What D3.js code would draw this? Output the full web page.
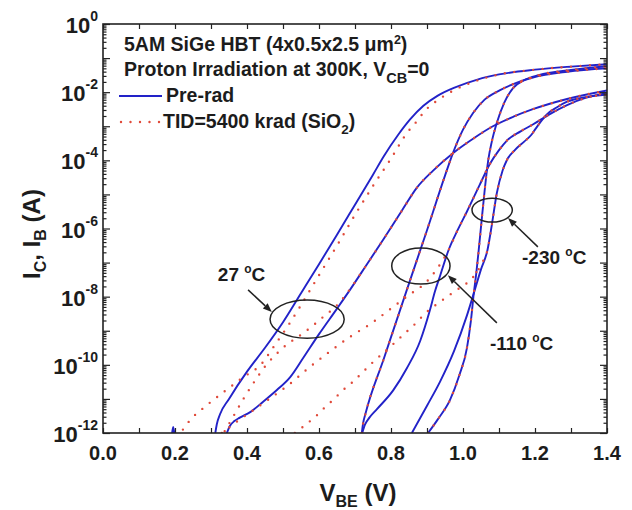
<!DOCTYPE html>
<html>
<head>
<meta charset="utf-8">
<script src="https://cdn.jsdelivr.net/npm/d3@7"></script>
<style>
  body { margin: 0; background: #fff; }
  text { font-family: "Liberation Sans", Arial, sans-serif; font-weight: bold; fill: #1c1c1c; }
</style>
</head>
<body>
<svg width="632" height="510"></svg>
<script>
// every point is [V_BE (V), log10 of current (A)]
var preIc27 = [[0.312,-12],[0.316,-11.75],[0.325,-11.45],[0.35,-11.0],[0.4,-10.2],[0.45,-9.5],[0.5,-8.75],[0.55,-7.9],
  [0.6,-7.05],[0.65,-6.18],[0.7,-5.3],[0.75,-4.42],[0.78,-3.88],[0.82,-3.25],[0.853,-2.8],[0.89,-2.4],[0.93,-2.1],
  [0.98,-1.85],[1.04,-1.63],[1.1,-1.48],[1.2,-1.34],[1.3,-1.25],[1.4,-1.18]];
var preIb27 = [[0.344,-12],[0.352,-11.8],[0.365,-11.65],[0.38,-11.55],[0.41,-11.38],[0.444,-11.09],[0.483,-10.74],
  [0.52,-10.36],[0.556,-9.8],[0.6,-9.1],[0.65,-8.35],[0.686,-7.8],[0.73,-7.1],[0.78,-6.3],[0.83,-5.48],[0.872,-4.8],
  [0.917,-4.3],[0.972,-3.79],[1.03,-3.35],[1.083,-3.0],[1.14,-2.72],[1.194,-2.5],[1.289,-2.2],[1.4,-1.95]];
var preIc110 = [[0.719,-12],[0.722,-11.75],[0.73,-11.4],[0.78,-9.82],[0.844,-7.8],[0.9,-6.05],[0.95,-4.45],[0.972,-3.79],
  [1.0,-3.1],[1.028,-2.61],[1.06,-2.22],[1.103,-1.94],[1.15,-1.72],[1.194,-1.57],[1.289,-1.4],[1.4,-1.3]];
var preIb110 = [[0.72,-12],[0.728,-11.75],[0.74,-11.55],[0.761,-11.3],[0.806,-10.75],[0.844,-10.1],[0.881,-9.3],
  [0.908,-8.4],[0.922,-7.85],[0.936,-7.4],[0.96,-6.63],[0.985,-6.05],[1.011,-5.5],[1.045,-4.75],[1.075,-4.1],[1.1,-3.7],
  [1.122,-3.42],[1.16,-3.15],[1.194,-2.95],[1.24,-2.65],[1.289,-2.38],[1.34,-2.17],[1.4,-2.02]];
var preIc230 = [[0.903,-12],[0.93,-11.6],[0.964,-11.03],[0.99,-10.3],[1.011,-9.5],[1.022,-8.7],[1.03,-7.9],[1.037,-7.3],
  [1.043,-6.7],[1.05,-5.95],[1.06,-4.9],[1.07,-4.0],[1.08,-3.45],[1.094,-2.9],[1.115,-2.3],[1.139,-1.88],[1.17,-1.65],
  [1.21,-1.5],[1.3,-1.35],[1.4,-1.24]];
var preIb230 = [[0.858,-12],[0.9,-11.2],[0.936,-10.5],[0.975,-9.6],[1.011,-8.55],[1.03,-7.9],[1.05,-7.2],[1.068,-6.63],
  [1.08,-5.9],[1.094,-4.96],[1.11,-4.3],[1.122,-3.99],[1.144,-3.7],[1.17,-3.45],[1.19,-3.25],[1.2,-3.1],[1.215,-2.88],
  [1.233,-2.65],[1.26,-2.45],[1.289,-2.28],[1.34,-2.15],[1.4,-2.07]];
var preGlitch = [[0.192,-12],[0.195,-11.82],[0.198,-12]];

// irradiated: low current part, the rest lies on the pre-rad curve
var tidIc27Low = [[0.222,-11.9],[0.247,-11.56],[0.275,-11.3],[0.303,-11.06],[0.331,-10.83],[0.386,-10.39],[0.442,-9.95],
  [0.472,-9.5],[0.511,-8.9],[0.547,-8.3],[0.6,-7.37],[0.65,-6.5],[0.7,-5.6],[0.75,-4.75],[0.8,-3.95],[0.844,-3.2],
  [0.872,-2.85],[0.894,-2.55],[0.928,-2.25],[0.97,-1.97],[1.02,-1.73]];
var tidIb27Low = [[0.338,-11.95],[0.36,-11.55],[0.39,-11.0],[0.42,-10.5],[0.45,-10.05],[0.5,-9.5],[0.556,-9.07],
  [0.583,-8.85],[0.611,-8.6],[0.65,-8.25],[0.686,-7.78]];
var tidIb110Low = [[0.33,-12],[0.37,-11.68],[0.408,-11.4],[0.458,-11.03],[0.514,-10.6],[0.575,-10.06],[0.631,-9.6],
  [0.686,-9.18],[0.747,-8.77],[0.806,-8.3],[0.85,-7.95],[0.9,-7.55],[0.93,-7.15]];
var tidIb230Low = [[0.533,-12],[0.561,-11.77],[0.589,-11.53],[0.614,-11.27],[0.639,-11.03],[0.667,-10.74],[0.694,-10.5],
  [0.722,-10.21],[0.75,-9.92],[0.8,-9.45],[0.839,-9.07],[0.867,-8.8],[0.894,-8.5],[0.93,-8.2],[0.956,-8.0],[0.983,-7.8],
  [1.011,-7.6],[1.033,-7.36],[1.053,-7.01]];

var xTicks = [0, 0.1, 0.2, 0.3, 0.4, 0.5, 0.6, 0.7, 0.8, 0.9, 1.0, 1.1, 1.2, 1.3, 1.4];
var xLabels = ["0.0", "0.2", "0.4", "0.6", "0.8", "1.0", "1.2", "1.4"];
var yLabelExps = [0, -2, -4, -6, -8, -10, -12];

var preCurves = [preIc27, preIb27, preIc110, preIb110, preIc230, preIb230, preGlitch];
var tidCurves = [
  tidIc27Low.concat(preIc27.filter(function(d) { return d[0] > 1.05; })),
  tidIb27Low.concat(preIb27.filter(function(d) { return d[0] > 0.7; })),
  preIc110,
  tidIb110Low.concat(preIb110.filter(function(d) { return d[0] > 0.95; })),
  preIc230,
  tidIb230Low.concat(preIb230.filter(function(d) { return d[0] > 1.06; }))
];

var svg = d3.select("svg"),
  margin = {top: 24, right: 25, bottom: 77, left: 103},
  width = +svg.attr("width") - margin.left - margin.right,
  height = +svg.attr("height") - margin.top - margin.bottom;

var x = d3.scaleLinear().domain([0, 1.4]).range([0, width]),
  y = d3.scaleLog().domain([1e-12, 1]).range([height, 0]);

var g = svg.append("g").attr("transform", "translate(" + margin.left + "," + margin.top + ")");

svg.append("defs").append("clipPath").attr("id", "plot")
  .append("rect").attr("width", width).attr("height", height);

var line = d3.line()
  .x(function(d) { return x(d[0]); })
  .y(function(d) { return y(Math.pow(10, d[1])); })
  .curve(d3.curveMonotoneX);

var curves = g.append("g").attr("clip-path", "url(#plot)");

curves.selectAll(".pre")
  .data(preCurves)
  .enter().append("path")
  .attr("class", "pre")
  .attr("d", line)
  .attr("fill", "none")
  .attr("stroke", "#2222c8")
  .attr("stroke-width", 1.9);

curves.selectAll(".tid")
  .data(tidCurves)
  .enter().append("path")
  .attr("class", "tid")
  .attr("d", line)
  .attr("fill", "none")
  .attr("stroke", "#e04a3a")
  .attr("stroke-width", 2.4)
  .attr("stroke-linecap", "round")
  .attr("stroke-dasharray", "0,9.5");

// ticks, all pointing inwards
var yMajor = [], yMinor = [];
for (var e = -12; e <= 0; e++) {
  yMajor.push(Math.pow(10, e));
  if (e < 0) for (var k = 2; k <= 9; k++) yMinor.push(k * Math.pow(10, e));
}

function tickStyle(sel) {
  sel.select(".domain").remove();
  sel.selectAll("line").attr("stroke", "#222").attr("stroke-width", 1.2);
}

g.append("g").attr("transform", "translate(0," + height + ")")
  .call(d3.axisBottom(x).tickValues(xTicks).tickSize(-5).tickFormat("")).call(tickStyle);
g.append("g")
  .call(d3.axisTop(x).tickValues(xTicks).tickSize(-5).tickFormat("")).call(tickStyle);
g.append("g")
  .call(d3.axisLeft(y).tickValues(yMajor).tickSize(-7).tickFormat("")).call(tickStyle);
g.append("g")
  .call(d3.axisLeft(y).tickValues(yMinor).tickSize(-3.5).tickFormat("")).call(tickStyle);
g.append("g").attr("transform", "translate(" + width + ",0)")
  .call(d3.axisRight(y).tickValues(yMajor).tickSize(-7).tickFormat("")).call(tickStyle);
g.append("g").attr("transform", "translate(" + width + ",0)")
  .call(d3.axisRight(y).tickValues(yMinor).tickSize(-3.5).tickFormat("")).call(tickStyle);

g.append("rect")
  .attr("width", width).attr("height", height)
  .attr("fill", "none").attr("stroke", "#222").attr("stroke-width", 1.6);

// tick labels
g.selectAll(".xlab")
  .data(xLabels)
  .enter().append("text")
  .attr("class", "xlab")
  .attr("x", function(d) { return x(+d); })
  .attr("y", height + 27)
  .attr("text-anchor", "middle")
  .style("font-size", "20px")
  .text(function(d) { return d; });

var ylab = g.selectAll(".ylab")
  .data(yLabelExps)
  .enter().append("text")
  .attr("class", "ylab")
  .attr("x", -5)
  .attr("y", function(d) { return y(Math.pow(10, d)) + 9; })
  .attr("text-anchor", "end")
  .style("font-size", "22px");
ylab.append("tspan").text("10");
ylab.append("tspan").attr("dy", -12).style("font-size", "14px").text(function(d) { return d; });

// axis titles
var xt = g.append("text")
  .attr("x", 255).attr("y", height + 68)
  .attr("text-anchor", "middle")
  .style("font-size", "24px");
xt.append("tspan").text("V");
xt.append("tspan").attr("dy", 6).style("font-size", "16px").text("BE");
xt.append("tspan").attr("dy", -6).text(" (V)");

var yt = svg.append("text")
  .attr("transform", "translate(40," + (margin.top + 210) + ") rotate(-90)")
  .attr("text-anchor", "middle")
  .style("font-size", "24px");
yt.append("tspan").text("I");
yt.append("tspan").attr("dy", 6).style("font-size", "16px").text("C");
yt.append("tspan").attr("dy", -6).text(", I");
yt.append("tspan").attr("dy", 6).style("font-size", "16px").text("B");
yt.append("tspan").attr("dy", -6).text(" (A)");

// header and legend
var t1 = svg.append("text").attr("x", 124).attr("y", 51).style("font-size", "19.5px");
t1.append("tspan").text("5AM SiGe HBT (4x0.5x2.5 \u03bcm");
t1.append("tspan").attr("dy", -7).style("font-size", "12.5px").text("2");
t1.append("tspan").attr("dy", 7).text(")");

var t2 = svg.append("text").attr("x", 124).attr("y", 76).style("font-size", "19.5px");
t2.append("tspan").text("Proton Irradiation at 300K, V");
t2.append("tspan").attr("dy", 7).style("font-size", "14.5px").text("CB");
t2.append("tspan").attr("dy", -7).text("=0");

svg.append("line").attr("x1", 119).attr("x2", 162).attr("y1", 96).attr("y2", 96)
  .attr("stroke", "#2222c8").attr("stroke-width", 1.9);
svg.append("text").attr("x", 166).attr("y", 102).style("font-size", "19.5px").text("Pre-rad");

svg.append("line").attr("x1", 121).attr("x2", 160).attr("y1", 122).attr("y2", 122)
  .attr("stroke", "#e04a3a").attr("stroke-width", 2.4)
  .attr("stroke-linecap", "round").attr("stroke-dasharray", "0,9.5");
var t4 = svg.append("text").attr("x", 163).attr("y", 128).style("font-size", "19.5px");
t4.append("tspan").text("TID=5400 krad (SiO");
t4.append("tspan").attr("dy", 6).style("font-size", "13.5px").text("2");
t4.append("tspan").attr("dy", -6).text(")");

// temperature annotations: ellipse [V, log10 I, half width V, half height decades]
var ellipses = [[0.567, -8.66, 0.103, 0.56], [0.883, -7.10, 0.081, 0.53], [1.081, -5.46, 0.056, 0.35]];
var arrows = [[[0.403, -7.80], [0.469, -8.45]], [[1.094, -8.77], [0.958, -7.37]], [[1.208, -6.54], [1.125, -5.69]]];
var tempLabels = [[0.319, -7.54, "27 "], [1.075, -9.57, "-110 "], [1.164, -7.04, "-230 "]];

function px(p) { return [x(p[0]), y(Math.pow(10, p[1]))]; }

g.selectAll(".ell")
  .data(ellipses)
  .enter().append("ellipse")
  .attr("cx", function(d) { return x(d[0]); })
  .attr("cy", function(d) { return y(Math.pow(10, d[1])); })
  .attr("rx", function(d) { return x(d[0] + d[2]) - x(d[0]); })
  .attr("ry", function(d) { return y(Math.pow(10, d[1] - d[3])) - y(Math.pow(10, d[1])); })
  .attr("fill", "none").attr("stroke", "#222").attr("stroke-width", 1.5);

arrows.forEach(function(a) {
  var p0 = px(a[0]), p1 = px(a[1]);
  var ang = Math.atan2(p1[1] - p0[1], p1[0] - p0[0]);
  var L = 9, W = 3.5;
  var bx = p1[0] - L * Math.cos(ang), by = p1[1] - L * Math.sin(ang);
  g.append("line").attr("x1", p0[0]).attr("y1", p0[1]).attr("x2", bx).attr("y2", by)
    .attr("stroke", "#222").attr("stroke-width", 1.5);
  g.append("path")
    .attr("d", "M" + p1[0] + "," + p1[1] +
      "L" + (bx - W * Math.sin(ang)) + "," + (by + W * Math.cos(ang)) +
      "L" + (bx + W * Math.sin(ang)) + "," + (by - W * Math.cos(ang)) + "Z")
    .attr("fill", "#222");
});

var tl = g.selectAll(".temp")
  .data(tempLabels)
  .enter().append("text")
  .attr("class", "temp")
  .attr("x", function(d) { return x(d[0]); })
  .attr("y", function(d) { return y(Math.pow(10, d[1])); })
  .style("font-size", "19px");
tl.append("tspan").text(function(d) { return d[2]; });
tl.append("tspan").attr("dy", -8).style("font-size", "12px").text("o");
tl.append("tspan").attr("dy", 8).text("C");
</script>
</body>
</html>
